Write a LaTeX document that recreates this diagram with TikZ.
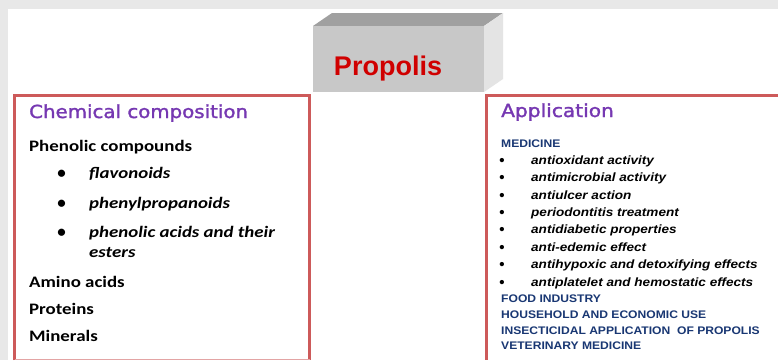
\documentclass[tikz,border=0pt]{standalone}
\usepackage{fontspec}
\usepackage{graphicx}
\setmainfont{Carlito}
\newfontfamily\headfont[FakeBold=1.5]{DejaVu Sans}
\newfontfamily\appfont{Liberation Sans}
\definecolor{bggray}{RGB}{232,232,232}
\definecolor{boxred}{RGB}{205,90,90}
\definecolor{headpurple}{RGB}{118,56,178}
\definecolor{navy}{RGB}{25,55,115}
\definecolor{propred}{RGB}{208,0,0}
\definecolor{frontgray}{RGB}{200,200,200}
\definecolor{topgray}{RGB}{160,160,160}
\definecolor{sidegray}{RGB}{228,228,228}
\newcommand{\hst}[2]{\scalebox{#1}[1]{#2}}
\tikzset{
  heading/.style={anchor=base west, inner sep=0pt, text=headpurple, font=\headfont\fontsize{18}{20}\selectfont},
  leftitem/.style={anchor=base west, inner sep=0pt, font=\bfseries\fontsize{16}{19}\selectfont},
  leftsub/.style={anchor=base west, inner sep=0pt, font=\bfseries\itshape\fontsize{16}{19}\selectfont},
  leftbul/.style={anchor=base, inner sep=0pt, font=\bfseries\fontsize{17}{19}\selectfont},
  appcap/.style={anchor=base west, inner sep=0pt, text=navy, font=\appfont\bfseries\fontsize{11}{13}\selectfont},
  appitem/.style={anchor=base west, inner sep=0pt, font=\appfont\bfseries\itshape\fontsize{12}{14}\selectfont},
  appbul/.style={anchor=base, inner sep=0pt, font=\appfont\bfseries\fontsize{15}{15}\selectfont},
  redframe/.style={draw=boxred, line width=3pt},
}
\begin{document}
\begin{tikzpicture}[x=1pt,y=-1pt]
\useasboundingbox (0,0) rectangle (778,360);
\fill[bggray] (0,0) rectangle (778,360);
\fill[white] (8,9) rectangle (778,360);
% 3D title box
\fill[topgray] (313,26) -- (332,13) -- (503,13) -- (484,26) -- cycle;
\fill[sidegray] (484,26) -- (503,13) -- (503,79) -- (484,92) -- cycle;
\node[fill=frontgray, inner sep=0pt, minimum width=171pt, minimum height=66pt] (titlebox) at (398.5,59) {};
\node[anchor=base, text=propred, inner sep=0pt, font=\appfont\bfseries\fontsize{27}{30}\selectfont] (propolis) at (388,75) {Propolis};
% frames
\draw[redframe] (14.5,360) -- (14.5,95.5) -- (309.5,95.5) -- (309.5,360);
\draw[boxred!55, line width=1pt] (14.5,359) -- (309.5,359);
\draw[redframe] (778,95.5) -- (486,95.5) -- (486,360);
% left column
\node[heading] (chem) at (29,118) {\hst{1.1}{Chemical composition}};
\node[leftitem] (phen) at (29,151) {\hst{1.18}{Phenolic compounds}};
\node[leftbul] (lb1) at (61.5,178) {\textbullet};
\node[leftsub] (flav) at (89,178) {\hst{1.18}{flavonoids}};
\node[leftbul] (lb2) at (61.5,208) {\textbullet};
\node[leftsub] (phpr) at (89,208) {\hst{1.18}{phenylpropanoids}};
\node[leftbul] (lb3) at (61.5,237) {\textbullet};
\node[leftsub] (acids) at (89,237) {\hst{1.18}{phenolic acids and their}};
\node[leftsub] (esters) at (89,257) {\hst{1.18}{esters}};
\node[leftitem] (amino) at (29,287) {\hst{1.18}{Amino acids}};
\node[leftitem] (prot) at (29,314) {\hst{1.18}{Proteins}};
\node[leftitem] (miner) at (29,341) {\hst{1.18}{Minerals}};
% right column
\node[heading] (app) at (501,117) {\hst{1.12}{Application}};
\node[appcap] (med) at (501,147) {\hst{1.1}{MEDICINE}};
\node[appbul] (rb1) at (502,165) {\textbullet};
\node[appitem] (r1) at (531,164) {\hst{1.13}{antioxidant activity}};
\node[appbul] (rb2) at (502,182) {\textbullet};
\node[appitem] (r2) at (531,181) {\hst{1.13}{antimicrobial activity}};
\node[appbul] (rb3) at (502,200) {\textbullet};
\node[appitem] (r3) at (531,199) {\hst{1.13}{antiulcer action}};
\node[appbul] (rb4) at (502,217) {\textbullet};
\node[appitem] (r4) at (531,216) {\hst{1.13}{periodontitis treatment}};
\node[appbul] (rb5) at (502,234) {\textbullet};
\node[appitem] (r5) at (531,233) {\hst{1.13}{antidiabetic properties}};
\node[appbul] (rb6) at (502,252) {\textbullet};
\node[appitem] (r6) at (531,251) {\hst{1.13}{anti-edemic effect}};
\node[appbul] (rb7) at (502,269) {\textbullet};
\node[appitem] (r7) at (531,268) {\hst{1.13}{antihypoxic and detoxifying effects}};
\node[appbul] (rb8) at (502,287) {\textbullet};
\node[appitem] (r8) at (531,286) {\hst{1.13}{antiplatelet and hemostatic effects}};
\node[appcap] (food) at (501,302) {\hst{1.1}{FOOD INDUSTRY}};
\node[appcap] (house) at (501,318) {\hst{1.1}{HOUSEHOLD AND ECONOMIC USE}};
\node[appcap] (insect) at (501,334) {\hst{1.1}{INSECTICIDAL APPLICATION\ \ OF PROPOLIS}};
\node[appcap] (vet) at (501,349) {\hst{1.1}{VETERINARY MEDICINE}};
\end{tikzpicture}
\end{document}
